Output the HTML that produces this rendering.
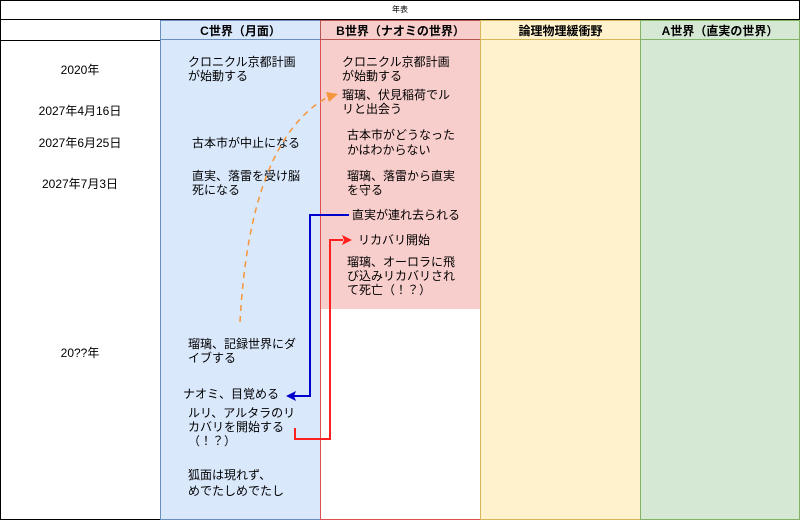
<!DOCTYPE html>
<html><head><meta charset="utf-8"><style>
body{margin:0;width:800px;height:520px;position:relative;font-family:"Liberation Sans","Noto Sans CJK JP",sans-serif;font-size:12px;color:#000;background:#fff;overflow:hidden}
.a{position:absolute}
.t{position:absolute;line-height:14px;white-space:nowrap}
.h{position:absolute;top:20px;height:20px;line-height:20px;text-align:center;font-weight:bold;font-size:12px;box-sizing:border-box}
.d{position:absolute;left:0;width:160px;text-align:center}
</style></head><body>
<div class="a" style="left:0;top:0;width:800px;height:520px;border:1px solid #000;box-sizing:border-box"></div>
<div class="a" style="left:0;top:0;width:800px;height:20px;text-align:center;line-height:20px;font-size:8px">年表</div>
<div class="a" style="left:0;top:19px;width:800px;height:22px;border-top:1px solid #000;border-bottom:1px solid #000;box-sizing:border-box"></div>
<div class="a" style="left:160px;top:20px;width:161px;height:500px;background:#dae8fc;border:1px solid #6c8ebf;box-sizing:border-box"></div>
<div class="a" style="left:320px;top:20px;width:161px;height:500px;background:#fff;border:1px solid #e05050;box-sizing:border-box"></div>
<div class="a" style="left:321px;top:20px;width:159px;height:289px;background:#f8cecc"></div>
<div class="a" style="left:480px;top:20px;width:161px;height:500px;background:#fff2cc;border:1px solid #d6b656;box-sizing:border-box"></div>
<div class="a" style="left:640px;top:20px;width:160px;height:500px;background:#d5e8d4;border:1px solid #82b366;box-sizing:border-box"></div>
<div class="h" style="left:160px;width:161px;border:1px solid #6c8ebf">C世界（月面）</div>
<div class="h" style="left:320px;width:161px;border:1px solid #b85450">B世界（ナオミの世界）</div>
<div class="h" style="left:480px;width:161px;border:1px solid #d6b656">論理物理緩衝野</div>
<div class="h" style="left:640px;width:160px;border:1px solid #82b366">A世界（直実の世界）</div>

<div class="t d" style="top:63px">2020年</div>
<div class="t d" style="top:104px">2027年4月16日</div>
<div class="t d" style="top:136px">2027年6月25日</div>
<div class="t d" style="top:177px">2027年7月3日</div>
<div class="t d" style="top:346px">20??年</div>

<div class="t" style="left:188px;top:55px">クロニクル京都計画<br>が始動する</div>
<div class="t" style="left:192px;top:136px">古本市が中止になる</div>
<div class="t" style="left:192px;top:169px">直実、落雷を受け脳<br>死になる</div>
<div class="t" style="left:188px;top:337px">瑠璃、記録世界にダ<br>イブする</div>
<div class="t" style="left:183px;top:387px">ナオミ、目覚める</div>
<div class="t" style="left:188px;top:406px">ルリ、アルタラのリ<br>カバリを開始する<br>（！？）</div>
<div class="t" style="left:188px;top:467px;line-height:16px">狐面は現れず、<br>めでたしめでたし</div>

<div class="t" style="left:342px;top:55px">クロニクル京都計画<br>が始動する</div>
<div class="t" style="left:342px;top:88px">瑠璃、伏見稲荷でル<br>リと出会う</div>
<div class="t" style="left:347px;top:128px;line-height:15px">古本市がどうなった<br>かはわからない</div>
<div class="t" style="left:347px;top:169px">瑠璃、落雷から直実<br>を守る</div>
<div class="t" style="left:352px;top:208px">直実が連れ去られる</div>
<div class="t" style="left:358px;top:233px">リカバリ開始</div>
<div class="t" style="left:347px;top:255px">瑠璃、オーロラに飛<br>び込みリカバリされ<br>て死亡（！？）</div>

<svg class="a" style="left:0;top:0" width="800" height="520">
<path d="M240,322 Q250,140 328,97" fill="none" stroke="#f5963c" stroke-width="1.5" stroke-dasharray="6,5"/>
<polygon points="338,94 326,92 329,102" fill="#f5963c"/>
<polyline points="349,215 310,215 310,396 294,396" fill="none" stroke="#0000cc" stroke-width="2"/>
<polygon points="286,396 296,391 294,396 296,401" fill="#0000cc"/>
<polyline points="295,428 295,439 330,439 330,240 343,240" fill="none" stroke="#ff2020" stroke-width="2"/>
<polygon points="352,240 342,235 344,240 342,245" fill="#ff2020"/>
</svg>
</body></html>
